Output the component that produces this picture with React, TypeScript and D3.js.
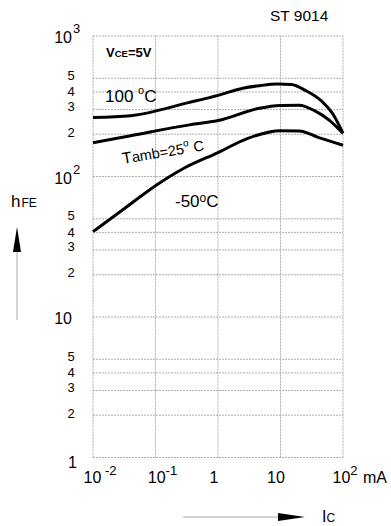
import React from "react";
import * as d3 from "d3";

// Collector current Ic (mA) and hFE for each temperature curve
const ic100 = [0.01, 0.04, 0.35, 1, 2.5, 4.6, 9, 15, 25, 45, 70, 100];
const hfe100 = [263, 271, 337, 378, 425, 443, 455, 452, 410, 345, 275, 203];
const ic25 = [0.01, 0.04, 0.35, 1, 4.6, 10, 20, 35, 60, 100];
const hfe25 = [174, 195, 233, 250, 306, 320, 322, 294, 252, 203];
const icM50 = [0.01, 0.03, 0.1, 0.28, 1, 3, 10, 20, 40, 100];
const hfeM50 = [40.5, 58, 86, 114, 148, 187, 212, 211, 190, 167];

const xDecades = [0.01, 0.1, 1, 10, 100];
const xTickBase = ["10", "10", "1", "10", "10"];
const xTickExp = [" -2", "-1", "", "", "2"];
const xTickDx = [7, 7, -4, -4.5, 2];

const yDecades = [1, 10, 100, 1000];
const yDecadeBase = ["1", "10", "10", "10"];
const yDecadeExp = ["", "", "2", "3"];
const yMinor = [2, 3, 4, 5];
const yMinorDy = [-2, -3, 0, -3];

const W = 391;
const H = 526;

export default function App() {
  const x = d3.scaleLog().domain([0.01, 100]).range([93, 343]);
  const y = d3.scaleLog().domain([1, 1000]).range([457.5, 36]);

  const line = d3
    .line<[number, number]>()
    .x((d) => x(d[0]))
    .y((d) => y(d[1]))
    .curve(d3.curveMonotoneX);

  const series = [
    { ic: ic100, h: hfe100 },
    { ic: ic25, h: hfe25 },
    { ic: icM50, h: hfeM50 },
  ];

  const minorVals: number[] = [];
  [1, 10, 100].forEach((d) => yMinor.forEach((m) => minorVals.push(d * m)));

  const gridStyle = { stroke: "#9a9a9a", strokeWidth: 0.8, strokeDasharray: "2 1" };
  const font = "Liberation Sans, Arial, sans-serif";

  return (
    <svg
      width={W}
      height={H}
      style={{ position: "absolute", left: 0, top: 0, background: "#fff" }}
      fontFamily={font}
    >
      <rect x={0} y={0} width={W} height={H} fill="#fff" />
      {/* grid */}
      {yDecades.concat(minorVals).map((v, i) => (
        <line key={"gy" + i} x1={x(0.01)} x2={x(100)} y1={y(v)} y2={y(v)} {...gridStyle} />
      ))}
      {xDecades.map((v, i) => (
        <line key={"gx" + i} x1={x(v)} x2={x(v)} y1={y(1)} y2={y(1000)} {...gridStyle} />
      ))}

      {/* curves */}
      {series.map((s, i) => (
        <path
          key={"s" + i}
          d={line(s.ic.map((c, j) => [c, s.h[j]] as [number, number])) || ""}
          fill="none"
          stroke="#000"
          strokeWidth={3}
          strokeLinejoin="round"
        />
      ))}

      {/* y decade labels */}
      {yDecades.map((v, i) => (
        <text
          key={"yd" + i}
          x={v === 1 ? 77 : 72}
          y={y(v) + (v === 1 ? 10.5 : 7)}
          fontSize={16}
          textAnchor="end"
        >
          {yDecadeBase[i]}
        </text>
      ))}
      {yDecades.map((v, i) =>
        yDecadeExp[i] ? (
          <text key={"ye" + i} x={73} y={y(v) - 3} fontSize={13}>
            {yDecadeExp[i]}
          </text>
        ) : null
      )}
      {/* y minor labels */}
      {minorVals.map((v, i) => (
        <text
          key={"ym" + i}
          x={71}
          y={y(v) + yMinorDy[i % 4] + 4.5}
          fontSize={13}
          textAnchor="middle"
        >
          {String(v / Math.pow(10, Math.floor(Math.log10(v) + 1e-9)))}
        </text>
      ))}

      {/* x labels */}
      {xDecades.map((v, i) => (
        <text key={"xt" + i} x={x(v) + xTickDx[i]} y={483} fontSize={16} textAnchor="middle">
          {xTickBase[i]}
          {xTickExp[i] ? (
            <tspan fontSize={13} dy={-8}>
              {xTickExp[i]}
            </tspan>
          ) : null}
        </text>
      ))}
      <text x={363} y={483} fontSize={16}>
        mA
      </text>

      {/* title */}
      <text x={270} y={20.5} fontSize={15.5}>
        ST 9014
      </text>

      {/* VCE=5V */}
      <text x={106} y={57} fontSize={13} fontWeight="bold">
        V<tspan fontSize={9.5}>CE</tspan>=5V
      </text>

      {/* 100 °C */}
      <text x={105} y={102} fontSize={17}>
        100 <tspan fontSize={11} dy={-8}>o</tspan>
        <tspan dy={8}>C</tspan>
      </text>

      {/* Tamb=25° C */}
      <text x={123} y={164} fontSize={14.5} transform="rotate(-9.6 123 164)">
        <tspan fontSize={16}>T</tspan>amb=25<tspan fontSize={10} dy={-7}>o</tspan>
        <tspan dy={7}> C</tspan>
      </text>

      {/* -50°C */}
      <text x={175} y={207} fontSize={17}>
        -50<tspan fontSize={12} dy={-5}>o</tspan>
        <tspan dy={5}>C</tspan>
      </text>

      {/* hFE axis label with arrow */}
      <text x={11} y={207} fontSize={17}>
        h<tspan fontSize={12} dx={1}>FE</tspan>
      </text>
      <line x1={17} x2={17} y1={250} y2={320} stroke="#aaa" strokeWidth={1} />
      <path d="M17,227 L21,252 L13,252 Z" fill="#000" />

      {/* Ic axis label with arrow */}
      <line x1={183} x2={282} y1={517} y2={517} stroke="#aaa" strokeWidth={1} />
      <path d="M305,517 L278,513 L278,521 Z" fill="#000" />
      <text x={322} y={522} fontSize={16}>
        I<tspan fontSize={12}>C</tspan>
      </text>
    </svg>
  );
}
